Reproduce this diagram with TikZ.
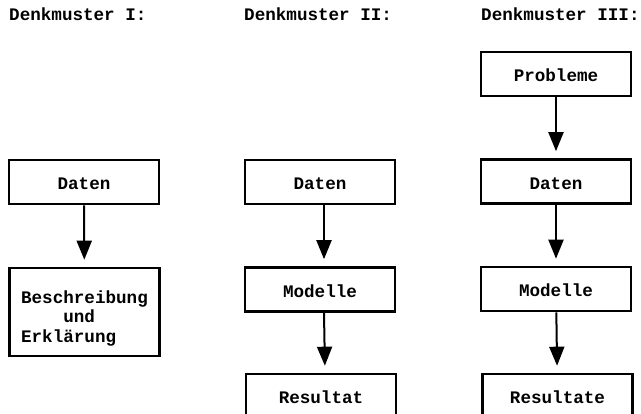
\documentclass[tikz,border=0pt]{standalone}
\usepackage{fontspec}
\setmonofont{Liberation Mono}
\usetikzlibrary{arrows.meta}
\begin{document}
\begin{tikzpicture}[x=1pt,y=-1pt,
  txt/.style={font=\ttfamily\bfseries\fontsize{17.6}{19}\selectfont},
  box/.style={txt,draw,line width=2.6pt,minimum width=150pt,minimum height=44pt,inner sep=0pt,text height=16pt,text depth=0pt},
  ttl/.style={txt,anchor=base west,inner sep=0pt},
  flow/.style={line width=2pt,-{Triangle[width=15pt,length=19pt]},shorten >=7pt}]
\useasboundingbox (0,0) rectangle (641,414);
\clip (0,0) rectangle (641,414);
\fill[white] (0,0) rectangle (641,414);
% titles
\node[ttl] (t1) at (9,20.5) {Denkmuster I:};
\node[ttl] (t2) at (244,20.5) {Denkmuster II:};
\node[ttl] (t3) at (481,20.5) {Denkmuster III:};
% column I
\node[box,minimum height=44pt] (d1) at (84,182) {Daten};
\node[box,minimum height=88pt,text height=,text depth=] (b1) at (84.5,312) {\raisebox{-7pt}[\height][\depth]{\renewcommand\arraystretch{1.05}\begin{tabular}{@{}l@{}}Beschreibung\\\hphantom{Besc}und\\Erklärung\end{tabular}}};
% column II
\node[box] (d2) at (320,182) {Daten};
\node[box] (m2) at (320,289.5) {Modelle};
\node[box] (r2) at (321,396) {Resultat};
% column III
\node[box] (p3) at (556,74) {Probleme};
\node[box] (d3) at (556,181.5) {Daten};
\node[box] (m3) at (556,289) {Modelle};
\node[box] (r3) at (557.5,396) {Resultate};
% arrows
\draw[flow] (d1) -- (b1);
\draw[flow] ([xshift=4pt]d2.south) -- ([xshift=4pt]m2.north);
\draw[flow] ([xshift=4pt]m2.south) -- ([xshift=4pt]r2.north);
\draw[flow] (p3) -- (d3);
\draw[flow] (d3) -- (m3);
\draw[flow] (m3) -- (r3);
\end{tikzpicture}
\end{document}
